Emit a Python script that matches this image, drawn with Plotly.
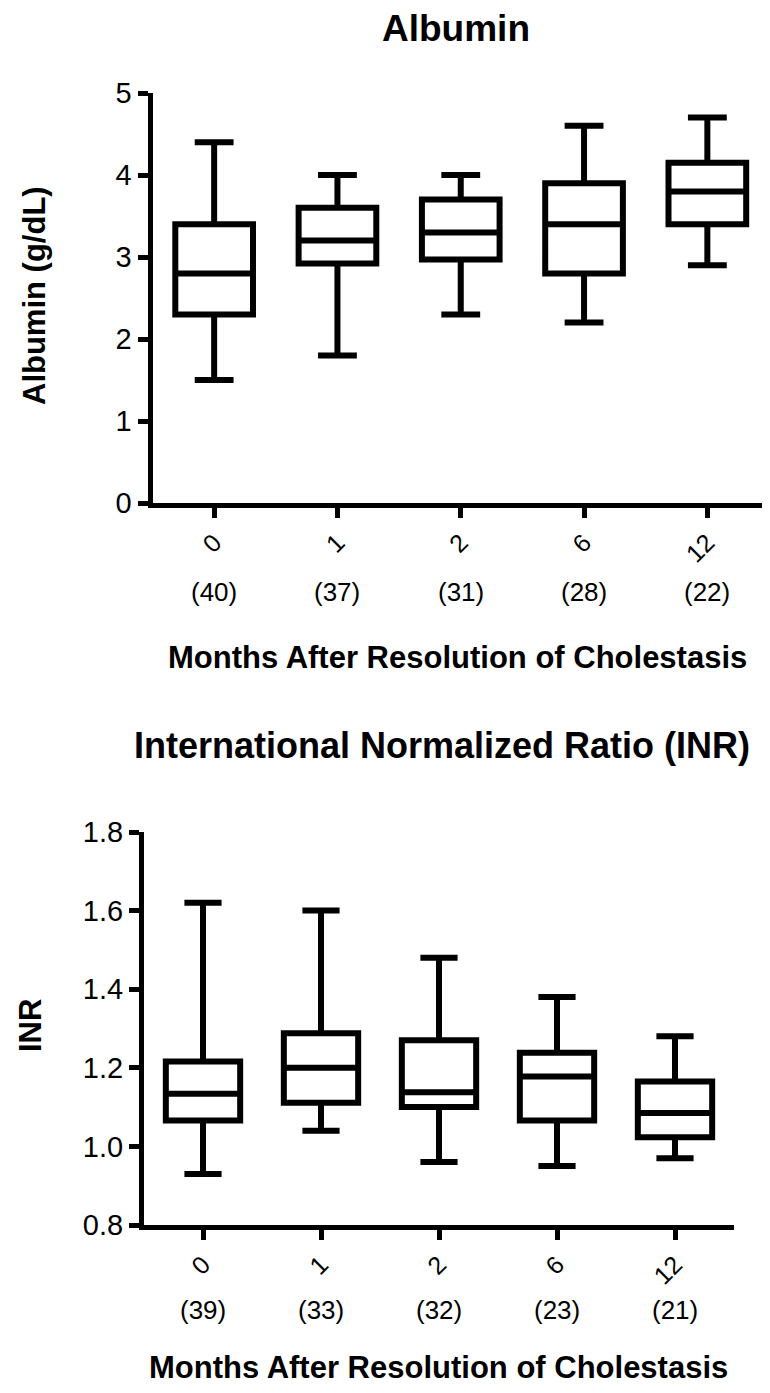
import plotly.graph_objects as go

W, H = 770, 1393
OFF = 8  # the page body margin shifts the figure by this many pixels

# ---------------- data ----------------
months = ["0", "1", "2", "6", "12"]

alb_n = [40, 37, 31, 28, 22]
alb_low = [1.5, 1.8, 2.3, 2.2, 2.9]
alb_q1 = [2.3, 2.92, 2.97, 2.8, 3.4]
alb_med = [2.8, 3.2, 3.3, 3.4, 3.8]
alb_q3 = [3.4, 3.6, 3.7, 3.9, 4.15]
alb_high = [4.4, 4.0, 4.0, 4.6, 4.7]

inr_n = [39, 33, 32, 23, 21]
inr_low = [0.93, 1.04, 0.96, 0.95, 0.97]
inr_q1 = [1.066, 1.111, 1.10, 1.066, 1.023]
inr_med = [1.134, 1.2, 1.138, 1.178, 1.085]
inr_q3 = [1.216, 1.288, 1.27, 1.238, 1.165]
inr_high = [1.62, 1.6, 1.48, 1.38, 1.28]

alb_ticks = [0, 1, 2, 3, 4, 5]
inr_ticks = [0.8, 1.0, 1.2, 1.4, 1.6, 1.8]

# ---------------- styling ----------------
REG = "Liberation Sans, Arial, sans-serif"
BOLD = "Liberation Sans, Arial, sans-serif"


def px(x):
    return (x - OFF) / W


def py(y):
    return 1 - (y - OFF) / H


fig = go.Figure()

box_style = dict(
    line=dict(color="black", width=6),
    fillcolor="white",
    width=0.63,
    whiskerwidth=0.5,
    boxpoints=False,
    showlegend=False,
    hoverinfo="skip",
)

fig.add_trace(go.Box(
    x=months, q1=alb_q1, median=alb_med, q3=alb_q3,
    lowerfence=alb_low, upperfence=alb_high,
    xaxis="x", yaxis="y", **box_style))

fig.add_trace(go.Box(
    x=months, q1=inr_q1, median=inr_med, q3=inr_q3,
    lowerfence=inr_low, upperfence=inr_high,
    xaxis="x2", yaxis="y2", **box_style))

axis_common = dict(
    showline=True, linecolor="black", linewidth=5,
    ticks="outside", ticklen=10, tickwidth=5, tickcolor="black",
    showgrid=False, zeroline=False, automargin=False,
)

fig.update_layout(
    width=W, height=H, autosize=False,
    margin=dict(l=0, r=0, t=0, b=0, pad=0, autoexpand=False),
    showlegend=False,
    paper_bgcolor="white", plot_bgcolor="white",
    xaxis=dict(
        domain=[px(152.5), px(769)], anchor="y", type="category",
        categoryorder="array", categoryarray=months,
        range=[-0.5, 4.5], tickangle=-45,
        tickfont=dict(family=REG, size=25, color="black"),
        **axis_common),
    yaxis=dict(
        domain=[py(503), py(93)], anchor="x",
        range=[0, 5], tickvals=alb_ticks,
        tickfont=dict(family=REG, size=29, color="black"),
        **axis_common),
    xaxis2=dict(
        domain=[px(144), px(734)], anchor="y2", type="category",
        categoryorder="array", categoryarray=months,
        range=[-0.5, 4.5], tickangle=-45,
        tickfont=dict(family=REG, size=25, color="black"),
        **axis_common),
    yaxis2=dict(
        domain=[py(1225), py(832)], anchor="x2",
        range=[0.8, 1.8], tickvals=inr_ticks, tickformat=".1f",
        tickfont=dict(family=REG, size=29, color="black"),
        **axis_common),
)

ann = []


def text(x, y, s, size, angle=0):
    ann.append(dict(
        x=px(x), y=py(y), xref="paper", yref="paper",
        text=f"<b>{s}</b>",
        showarrow=False, textangle=angle,
        xanchor="center", yanchor="middle",
        font=dict(family=BOLD, size=size, color="black")))


# titles
text(456, 29, "Albumin", 37)
text(442, 745, "International Normalized Ratio (INR)", 36)
# x-axis titles
text(457, 657, "Months After Resolution of Cholestasis", 31)
text(438, 1367, "Months After Resolution of Cholestasis", 31)
# y-axis titles
text(34, 296, "Albumin (g/dL)", 31, angle=-90)
text(30, 1026, "INR", 31, angle=-90)

# sample counts under each category (placed by category index)
for i, n in enumerate(alb_n):
    ann.append(dict(x=i, y=py(592), xref="x", yref="paper", text=f"({n})",
                    showarrow=False, xanchor="center", yanchor="middle",
                    font=dict(family=REG, size=26, color="black")))
for i, n in enumerate(inr_n):
    ann.append(dict(x=i, y=py(1310), xref="x2", yref="paper", text=f"({n})",
                    showarrow=False, xanchor="center", yanchor="middle",
                    font=dict(family=REG, size=26, color="black")))

fig.update_layout(annotations=ann)

fig.write_html("out.html")
